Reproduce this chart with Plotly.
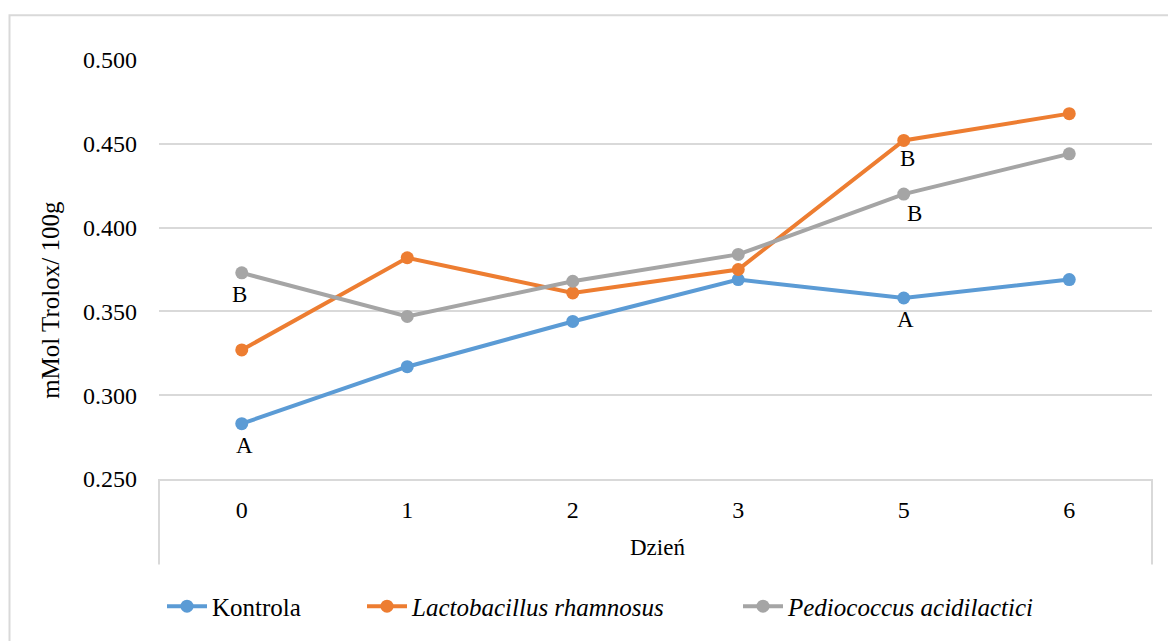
import plotly.graph_objects as go

# Sampling days (categorical axis) and antioxidant capacity, mMol Trolox / 100 g
days = ["0", "1", "2", "3", "5", "6"]
kontrola = [0.283, 0.317, 0.344, 0.369, 0.358, 0.369]
l_rhamnosus = [0.327, 0.382, 0.361, 0.375, 0.452, 0.468]
p_acidilactici = [0.373, 0.347, 0.368, 0.384, 0.420, 0.444]

series_names = ["Kontrola", "<i>Lactobacillus rhamnosus</i>", "<i>Pediococcus acidilactici</i>"]
series_values = [kontrola, l_rhamnosus, p_acidilactici]
series_colors = ["#5B9BD5", "#ED7D31", "#A5A5A5"]

# Significance letters: (series index, day, letter, x shift px, y shift px)
letters = [
    (0, "0", "A", 3, -22),
    (0, "5", "A", 2, -22),
    (2, "0", "B", -2, -22),
    (2, "5", "B", 11, -19),
    (1, "5", "B", 4, -18),
]

FONT = "Liberation Serif"
GRID = "#d9d9d9"

L, R, T, B = 159, 16, 60, 160
W, H = 1168, 641
PW, PH = W - L - R, H - T - B


def px_x(px):
    return (px - L) / PW


def px_y(py):
    return (H - B - py) / PH


fig = go.Figure()

legend_ids = ["legend", "legend2", "legend3"]
for name, vals, color, lg in zip(series_names, series_values, series_colors, legend_ids):
    fig.add_trace(go.Scatter(
        x=days, y=vals, name=name, mode="lines+markers",
        line=dict(color=color, width=4),
        marker=dict(color=color, size=13),
        legend=lg,
    ))

for si, day, txt, dx, dy in letters:
    idx = days.index(day)
    fig.add_annotation(
        x=idx, y=series_values[si][idx], xref="x", yref="y",
        text=txt, showarrow=False, xshift=dx, yshift=dy,
        xanchor="center", yanchor="middle",
        font=dict(family=FONT, size=23, color="#000"),
    )

# Axis titles
fig.add_annotation(
    x=px_x(51), y=px_y(301), xref="paper", yref="paper",
    text="mMol Trolox/ 100g", textangle=-90, showarrow=False,
    xanchor="center", yanchor="middle",
    font=dict(family=FONT, size=25, color="#000"),
)
fig.add_annotation(
    x=px_x(657), y=px_y(550), xref="paper", yref="paper",
    text="Dzień", showarrow=False,
    xanchor="center", yanchor="middle",
    font=dict(family=FONT, size=23, color="#000"),
)

# Outer chart border and category-axis end ticks
fig.add_shape(type="rect", xref="paper", yref="paper",
              x0=px_x(9.5), x1=px_x(1180), y0=px_y(660), y1=px_y(15),
              line=dict(color=GRID, width=2), layer="below")
for xe in (0, 1):
    fig.add_shape(type="line", xref="paper", yref="paper",
                  x0=xe, x1=xe, y0=0, y1=px_y(567),
                  line=dict(color=GRID, width=2), layer="below")

legend_common = dict(
    orientation="h", yanchor="middle", xanchor="left",
    font=dict(family=FONT, size=25, color="#000"),
    bgcolor="rgba(0,0,0,0)", itemwidth=40,
)
legend_text_start = [214, 414, 790]
fig.update_layout(
    legend=dict(x=px_x(legend_text_start[0] - 52), y=px_y(609), **legend_common),
    legend2=dict(x=px_x(legend_text_start[1] - 52), y=px_y(609), **legend_common),
    legend3=dict(x=px_x(legend_text_start[2] - 52), y=px_y(609), **legend_common),
)

fig.update_layout(
    width=W, height=H,
    margin=dict(l=L, r=R, t=T, b=B),
    paper_bgcolor="white", plot_bgcolor="white",
    showlegend=True,
    font=dict(family=FONT, color="#000"),
    xaxis=dict(
        type="category", range=[-0.5, 5.5], showgrid=False,
        showline=True, linecolor=GRID, linewidth=2,
        ticks="", tickfont=dict(size=24, family=FONT),
        ticklabelstandoff=8,
    ),
    yaxis=dict(
        range=[0.25, 0.5], tickvals=[0.25, 0.30, 0.35, 0.40, 0.45, 0.50],
        tickformat=".3f", showgrid=True, gridcolor=GRID, gridwidth=2,
        zeroline=False, showline=False, ticks="",
        tickfont=dict(size=24, family=FONT), ticklabelstandoff=21,
    ),
)

fig.write_html("out.html")
